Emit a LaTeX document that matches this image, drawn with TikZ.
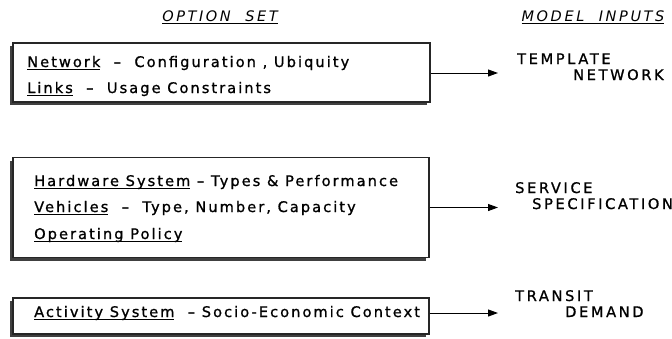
\documentclass[tikz,border=0pt]{standalone}
\usepackage{fontspec}
\setmainfont{DejaVu Sans}[LetterSpace=14, FakeBold=1]
\newfontfamily\capsfont{DejaVu Sans}[LetterSpace=18]
\newfontfamily\labelfont{DejaVu Sans}[LetterSpace=18, FakeBold=1]
\usetikzlibrary{arrows.meta,shadows}
% underlined word, rule a little below the baseline
\newcommand\ulword[1]{\setbox0\hbox{#1}\rlap{\rule[-3pt]{\wd0}{1.2pt}}\box0\relax}
\begin{document}
\begin{tikzpicture}[x=1pt,y=-1pt,
  optbox/.style={draw=black!85, line width=1.3pt, fill=white, rectangle, inner sep=0pt,
    drop shadow={shadow xshift=-3pt, shadow yshift=-3pt, fill=black!75, opacity=1}},
  line/.style={anchor=base west, inner sep=0pt, font=\fontsize{14.6}{16}\selectfont},
  head/.style={anchor=base, inner sep=0pt, font=\capsfont\itshape\fontsize{14.5}{16}\selectfont},
  input/.style={anchor=base west, inner sep=0pt, align=left, font=\labelfont\fontsize{14.6}{16}\selectfont},
  feed/.style={line width=1pt, -{Triangle[length=10pt,width=7pt]}}]
\useasboundingbox (0,0) rectangle (672,338);

% column headings
\node[head] (hopt) at (220,21) {\ulword{OPTION\ \ SET}};
\node[head] (hin) at (593,21) {\ulword{MODEL\ \ INPUTS}};

% option boxes
\node[optbox, minimum width=417pt, minimum height=59pt] (net) at (221.5,72.5) {};
\node[optbox, minimum width=416pt, minimum height=100pt] (hw) at (221,207.5) {};
\node[optbox, minimum width=416pt, minimum height=36pt] (act) at (221,316) {};

% box texts
\node[line] (n1) at (27,67) {\ulword{Network} \ – \ Configuration , Ubiquity};
\node[line] (n2) at (27,93) {\ulword{Links} \ – \ Usage Constraints};
\node[line] (h1) at (34,186) {\ulword{Hardware System} – Types \& Performance};
\node[line] (h2) at (34,212) {\ulword{Vehicles} \ – \ Type, Number, Capacity};
\node[line] (h3) at (34,239) {\ulword{Operating Policy}};
\node[line] (a1) at (34,317) {\ulword{Activity System} \ – Socio-Economic Context};

% model inputs
\coordinate (t1) at (498,73);
\coordinate (t2) at (498,207.5);
\coordinate (t3) at (498,313);
\node[input] (m1) at (517,80) {TEMPLATE\\\hspace*{56pt}NETWORK};
\node[input] (m2) at (515,209) {SERVICE\\\hspace*{17pt}SPECIFICATION};
\node[input] (m3) at (515,317) {TRANSIT\\\hspace*{50pt}DEMAND};

\draw[feed] (net.east |- t1) -- (t1);
\draw[feed] (hw.east |- t2) -- (t2);
\draw[feed] (act.east |- t3) -- (t3);
\end{tikzpicture}
\end{document}
